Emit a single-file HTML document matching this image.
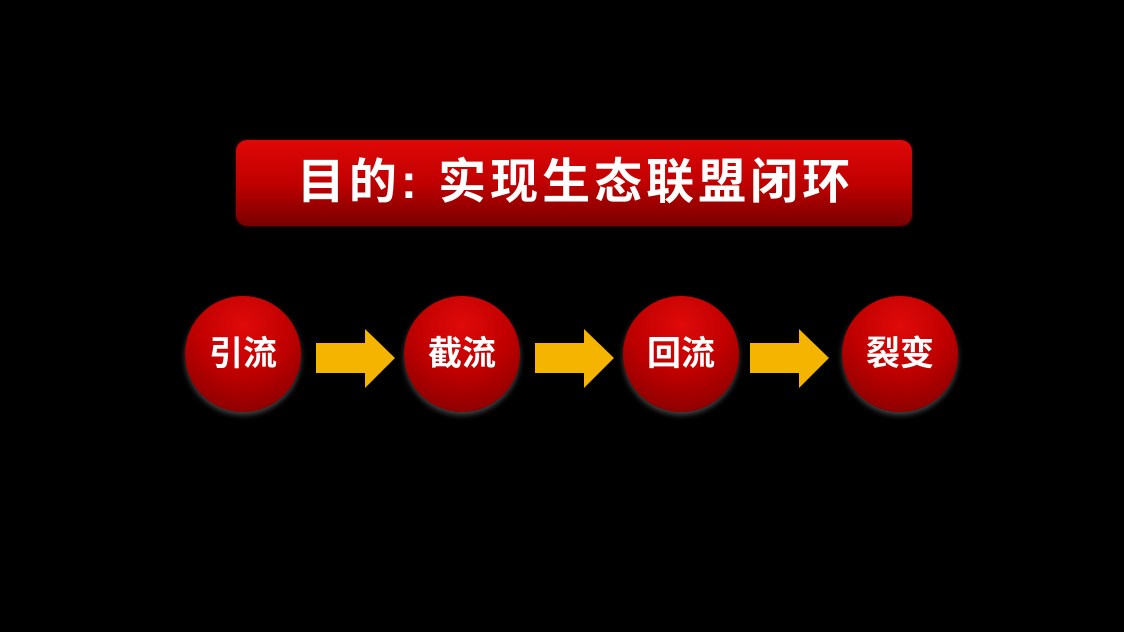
<!DOCTYPE html>
<html><head><meta charset="utf-8"><style>
body{margin:0;width:1124px;height:632px;background:#000;overflow:hidden;position:relative;font-family:"Liberation Sans","Noto Sans CJK SC",sans-serif}
.banner{position:absolute;left:236px;top:140px;width:676px;height:86px;border-radius:11px;background:linear-gradient(#e00808 0%,#c00000 50%,#780000 100%);box-shadow:0 0 4px rgba(120,0,0,.6)}
.banner span{position:absolute;left:3px;right:0;top:0;line-height:86px;text-align:center;color:#fff;font-weight:bold;font-size:48px;letter-spacing:4px}
.c{position:absolute;width:116px;height:116px;border-radius:50%;top:296px;background:radial-gradient(circle at 50% 25%,#e00a0a 0%,#c00000 45%,#7a0000 100%);box-shadow:0 3px 6px rgba(200,200,200,.35);color:#fff;font-weight:bold;font-size:34px;line-height:116px;text-align:center}
svg{position:absolute;left:0;top:0}
</style></head><body>
<div class="banner"><span>目的: 实现生态联盟闭环</span></div>
<div class="c" style="left:185px">引流</div>
<div class="c" style="left:404px">截流</div>
<div class="c" style="left:623px">回流</div>
<div class="c" style="left:842px">裂变</div>
<svg width="1124" height="632">
<g fill="#f5b400">
<polygon points="316,343 365,343 365,329 395,358 365,388 365,373 316,373"/>
<polygon points="535,343 584,343 584,329 614,358 584,388 584,373 535,373"/>
<polygon points="750,343 799,343 799,329 829,358 799,388 799,373 750,373"/>
</g></svg>
</body></html>
